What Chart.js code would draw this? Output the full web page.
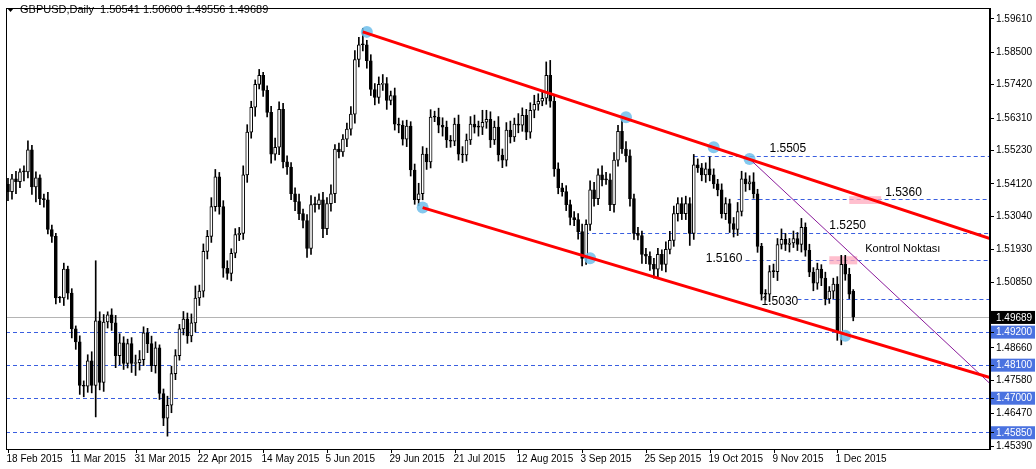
<!DOCTYPE html>
<html><head><meta charset="utf-8">
<script src="https://cdn.jsdelivr.net/npm/chart.js@4.4.1/dist/chart.umd.min.js"></script>
<style>html,body{margin:0;padding:0;background:#fff}#wrap{width:1036px;height:469px}</style>
</head><body><div id="wrap"><canvas id="c"></canvas></div>
<script>
const opens = [
1.5410,1.5386,1.5429,1.5419,1.5452,1.5452,1.5525,1.5402,1.5432,1.5363,
1.5359,1.5260,1.5237,1.5032,1.5032,1.5128,1.5048,1.4929,1.4886,1.4741,
1.4738,1.4823,1.4741,1.4956,1.4751,1.4952,1.4976,1.4949,1.4840,1.4883,
1.4814,1.4880,1.4814,1.4817,1.4827,1.4916,1.4880,1.4807,1.4866,1.4714,
1.4632,1.4675,1.4780,1.4840,1.4929,1.4962,1.4906,1.4949,1.5032,1.5055,
1.5187,1.5237,1.5336,1.5435,1.5336,1.5131,1.5114,1.5181,1.5243,1.5247,
1.5442,1.5584,1.5667,1.5743,1.5773,1.5723,1.5650,1.5511,1.5534,1.5660,
1.5485,1.5468,1.5379,1.5353,1.5313,1.5290,1.5197,1.5343,1.5343,1.5359,
1.5263,1.5346,1.5379,1.5528,1.5518,1.5561,1.5594,1.5644,1.5826,1.5875,
1.5875,1.5822,1.5726,1.5700,1.5743,1.5746,1.5690,1.5706,1.5611,1.5607,
1.5561,1.5604,1.5458,1.5359,1.5379,1.5511,1.5485,1.5634,1.5634,1.5607,
1.5601,1.5558,1.5554,1.5611,1.5511,1.5508,1.5558,1.5611,1.5601,1.5601,
1.5617,1.5627,1.5558,1.5601,1.5508,1.5491,1.5591,1.5568,1.5611,1.5607,
1.5640,1.5584,1.5657,1.5677,1.5687,1.5697,1.5773,1.5687,1.5462,1.5399,
1.5386,1.5343,1.5300,1.5293,1.5253,1.5164,1.5277,1.5392,1.5363,1.5442,
1.5425,1.5425,1.5343,1.5491,1.5587,1.5528,1.5505,1.5363,1.5247,1.5240,
1.5177,1.5171,1.5144,1.5128,1.5177,1.5144,1.5194,1.5224,1.5313,1.5346,
1.5313,1.5346,1.5247,1.5475,1.5465,1.5442,1.5462,1.5442,1.5412,1.5392,
1.5313,1.5346,1.5280,1.5260,1.5320,1.5429,1.5412,1.5419,1.5379,1.5204,
1.5045,1.5045,1.5120,1.5120,1.5210,1.5227,1.5210,1.5215,1.5230,1.5210,
1.5267,1.5191,1.5118,1.5081,1.5128,1.5098,1.5029,1.5055,1.5078,1.4916,
1.5144,1.5111,1.5054];
const closes = [
1.5386,1.5429,1.5419,1.5452,1.5452,1.5525,1.5402,1.5432,1.5363,1.5359,
1.5260,1.5237,1.5032,1.5032,1.5128,1.5048,1.4929,1.4886,1.4741,1.4738,
1.4823,1.4741,1.4956,1.4751,1.4952,1.4976,1.4949,1.4840,1.4883,1.4814,
1.4880,1.4814,1.4817,1.4827,1.4916,1.4880,1.4807,1.4866,1.4714,1.4632,
1.4675,1.4780,1.4840,1.4929,1.4962,1.4906,1.4949,1.5032,1.5055,1.5187,
1.5237,1.5336,1.5435,1.5336,1.5131,1.5114,1.5181,1.5243,1.5247,1.5442,
1.5584,1.5667,1.5743,1.5773,1.5723,1.5650,1.5511,1.5534,1.5660,1.5485,
1.5468,1.5379,1.5353,1.5313,1.5290,1.5197,1.5343,1.5343,1.5359,1.5263,
1.5346,1.5379,1.5528,1.5518,1.5561,1.5594,1.5644,1.5826,1.5875,1.5875,
1.5822,1.5726,1.5700,1.5743,1.5746,1.5690,1.5706,1.5611,1.5607,1.5561,
1.5604,1.5458,1.5359,1.5379,1.5511,1.5485,1.5634,1.5634,1.5607,1.5601,
1.5558,1.5554,1.5611,1.5511,1.5508,1.5558,1.5611,1.5601,1.5601,1.5617,
1.5627,1.5558,1.5601,1.5508,1.5491,1.5591,1.5568,1.5611,1.5607,1.5640,
1.5584,1.5657,1.5677,1.5687,1.5697,1.5773,1.5687,1.5462,1.5399,1.5386,
1.5343,1.5300,1.5293,1.5253,1.5164,1.5277,1.5392,1.5363,1.5442,1.5425,
1.5425,1.5343,1.5491,1.5587,1.5528,1.5505,1.5363,1.5247,1.5240,1.5177,
1.5171,1.5144,1.5128,1.5177,1.5144,1.5194,1.5224,1.5313,1.5346,1.5313,
1.5346,1.5247,1.5475,1.5465,1.5442,1.5462,1.5442,1.5412,1.5392,1.5313,
1.5346,1.5280,1.5260,1.5320,1.5429,1.5412,1.5419,1.5379,1.5204,1.5045,
1.5045,1.5120,1.5120,1.5210,1.5227,1.5210,1.5215,1.5230,1.5210,1.5267,
1.5191,1.5118,1.5081,1.5128,1.5098,1.5029,1.5055,1.5078,1.4916,1.5144,
1.5111,1.5045,1.4969];
// wick lengths in pips above body top / below body bottom
const upperWickPips = [
20,15,25,10,20,30,15,20,10,15, 25,15,10,5,20,10,15,10,20,15,
20,30,200,30,25,10,20,25,30,20, 15,20,25,30,20,15,25,20,10,15,
30,25,20,15,25,20,30,40,20,25, 20,30,25,15,20,25,15,20,20,30,
25,20,15,20,10,15,20,30,25,20, 20,15,20,25,15,20,30,25,20,25,
20,30,15,20,15,20,25,30,25,55, 15,20,20,25,30,20,15,25,20,15,
20,15,20,35,25,20,25,20,30,25, 20,15,20,30,25,20,25,30,20,40,
30,25,20,35,20,25,30,20,35,25, 20,25,30,25,20,45,50,20,20,15,
20,15,20,20,25,15,30,25,20,30, 25,20,25,20,40,25,20,15,20,15,
20,15,20,20,15,25,30,25,20,20, 25,20,35,20,15,20,40,20,15,20,
20,15,20,30,25,20,20,30,15,10, 15,20,25,20,35,20,15,25,20,30,
15,20,15,20,15,20,15,20,25,30, 30,20,6];
const lowerWickPips = [
30,25,40,20,30,20,25,50,20,25, 15,20,20,15,25,20,30,25,30,35,
20,25,105,25,30,20,25,40,30,20, 15,30,40,25,20,30,20,25,20,25,
60,25,20,15,20,25,20,30,25,20, 25,20,15,25,30,20,25,15,20,20,
25,20,30,15,20,15,30,20,25,20, 25,20,30,20,25,30,20,25,15,30,
20,25,30,20,15,25,20,30,25,20, 25,20,25,20,20,30,15,20,25,20,
25,20,15,20,20,25,20,15,25,30, 25,20,15,20,25,20,15,20,30,25,
20,25,15,20,25,20,20,15,25,20, 25,20,25,20,15,20,20,25,20,15,
20,25,20,25,25,20,20,25,20,20, 15,20,25,20,15,20,25,20,15,30,
25,20,30,25,20,25,15,20,25,20, 20,40,20,15,20,25,20,15,20,15,
20,30,25,20,15,25,20,15,20,20, 20,25,20,30,15,20,25,15,20,25,
20,15,25,20,25,20,15,25,25,40, 20,15,13];
const dateLabels = ["18 Feb 2015","11 Mar 2015","31 Mar 2015","22 Apr 2015","14 May 2015","5 Jun 2015","29 Jun 2015","21 Jul 2015","12 Aug 2015","3 Sep 2015","25 Sep 2015","19 Oct 2015","9 Nov 2015","1 Dec 2015"];
const dateLabelBars = [0,16,32,48,64,80,96,112,128,144,160,176,192,208];
const priceTicks = [1.59610,1.58500,1.57420,1.56310,1.55230,1.54120,1.53040,1.51930,1.50850,1.48660,1.47580,1.46470,1.45390];
const lastPrice = 1.49689;
const fullLevels = [1.4920,1.4810,1.4700,1.4585];
const partialLevels = [[1.5505,172],[1.5360,183],[1.5250,143],[1.5160,185],[1.5030,198]];
const levelTexts = [["1.5505",191,1.5505],["1.5360",220,1.5360],["1.5250",206,1.5250],["1.5160",175,1.5140],["1.5030",189,1.4995],["Kontrol Noktası",215,1.5172]];
const upperChannel = [{x:89,y:1.5918},{x:246.3,y:1.5230}];
const lowerChannel = [{x:104,y:1.5333},{x:246.3,y:1.4767}];
const purpleLine = [{x:186,y:1.5495},{x:246.3,y:1.4747}];
const pivots = [{x:90,y:1.5918},{x:104,y:1.5333},{x:146,y:1.5164},{x:155,y:1.5634},{x:177,y:1.5534},{x:186,y:1.5495},{x:210,y:1.4906}];
const pinkZones = [[211,219,1.5371,1.5345],[206,213,1.5171,1.5144]];

const bodies = closes.map((c,i)=>({x:i,y:[opens[i],c]}));
const wicks = closes.map((c,i)=>({x:i,y:[Math.min(opens[i],c)-lowerWickPips[i]/10000, Math.max(opens[i],c)+upperWickPips[i]/10000]}));
const bull = closes.map((c,i)=>c>opens[i]);

const F = '"Liberation Sans", Arial, sans-serif';
const deco = {
  id:'deco',
  beforeDatasetsDraw(ch){
    const {ctx, chartArea:a, scales:{x,y}} = ch;
    ctx.save();
    ctx.strokeStyle='#b4b4b4'; ctx.lineWidth=1;
    let py=Math.round(y.getPixelForValue(lastPrice))+0.5;
    ctx.beginPath(); ctx.moveTo(a.left,py); ctx.lineTo(a.right,py); ctx.stroke();
    ctx.strokeStyle='#3a5fe0'; ctx.setLineDash([4,3]);
    fullLevels.forEach(v=>{const p=Math.round(y.getPixelForValue(v))+0.5;ctx.beginPath();ctx.moveTo(a.left,p);ctx.lineTo(a.right,p);ctx.stroke();});
    partialLevels.forEach(([v,s])=>{const p=Math.round(y.getPixelForValue(v))+0.5;ctx.beginPath();ctx.moveTo(x.getPixelForValue(s),p);ctx.lineTo(a.right,p);ctx.stroke();});
    ctx.setLineDash([]);
    ctx.fillStyle='rgba(255,170,190,0.75)';
    pinkZones.forEach(([x0,x1,y0,y1])=>{const X0=x.getPixelForValue(x0),X1=x.getPixelForValue(x1),Y0=y.getPixelForValue(y0),Y1=y.getPixelForValue(y1);ctx.fillRect(X0,Y0,X1-X0,Y1-Y0);});
    ctx.restore();
  },
  afterDraw(ch){
    const {ctx, chartArea:a, scales:{x,y}} = ch;
    ctx.save();
    ctx.strokeStyle='#000'; ctx.lineWidth=1;
    ctx.strokeRect(a.left+0.5,a.top+0.5,a.right-a.left-1,a.bottom-a.top);
    ctx.fillStyle='#000'; ctx.font='10px '+F; ctx.textBaseline='middle'; ctx.textAlign='left';
    dateLabels.forEach((t,i)=>{const px=Math.round(x.getPixelForValue(dateLabelBars[i]))+0.5;
      ctx.beginPath();ctx.moveTo(px,a.bottom);ctx.lineTo(px,a.bottom+4);ctx.stroke();
      ctx.fillText(t,px-2,a.bottom+10);});
    ctx.textBaseline='bottom';
    levelTexts.forEach(([t,bx,v])=>{ctx.font=(t.length>7?'11px ':'12px ')+F;ctx.fillText(t,x.getPixelForValue(bx),y.getPixelForValue(v)-1);});
    ctx.font='10px '+F; ctx.textBaseline='middle';
    const box=(v,bg)=>{const p=y.getPixelForValue(v);ctx.fillStyle=bg;ctx.fillRect(a.right+1,p-6,44,13);ctx.fillStyle='#fff';ctx.fillText(v.toFixed(5),a.right+6,p+1);
      ctx.strokeStyle='#000';ctx.beginPath();ctx.moveTo(a.right,Math.round(p)+0.5);ctx.lineTo(a.right+4,Math.round(p)+0.5);ctx.stroke();};
    box(lastPrice,'#000');
    fullLevels.forEach(v=>box(v,'#4a72e0'));
    ctx.fillStyle='#000'; ctx.font='11px '+F; ctx.textBaseline='middle';
    ctx.beginPath();ctx.moveTo(7,8);ctx.lineTo(14,8);ctx.lineTo(10.5,12);ctx.closePath();ctx.fill();
    ctx.fillText('GBPUSD,Daily  1.50541 1.50600 1.49556 1.49689',20,10);
    ctx.restore();
  }
};

new Chart(document.getElementById('c'),{
  type:'bar',
  data:{datasets:[
    {type:'line',data:upperChannel,borderColor:'#ff0000',borderWidth:3,pointRadius:0,order:1},
    {type:'line',data:lowerChannel,borderColor:'#ff0000',borderWidth:3,pointRadius:0,order:1},
    {type:'line',data:purpleLine,borderColor:'#8a1a9a',borderWidth:1,pointRadius:0,order:1},
    {type:'line',data:pivots,showLine:false,pointRadius:6,pointBorderWidth:0,pointBackgroundColor:'rgba(110,190,235,0.85)',order:2},
    {data:bodies,barThickness:3,minBarLength:1,borderWidth:1,borderSkipped:false,borderColor:'#000',backgroundColor:bull.map(b=>b?'#fff':'#000'),grouped:false,order:3},
    {data:wicks,barThickness:1,backgroundColor:'#000',borderWidth:0,grouped:false,order:4}
  ]},
  options:{
    responsive:true,maintainAspectRatio:false,animation:false,
    layout:{padding:{left:3,top:5,bottom:20,right:0}},
    plugins:{legend:{display:false},tooltip:{enabled:false}},
    scales:{
      x:{type:'linear',min:-0.5,max:246.3,display:false,offset:false},
      y:{position:'right',min:1.45292,max:1.59975,
        afterBuildTicks(s){s.ticks=priceTicks.map(v=>({value:v}));},
        afterFit(s){s.width=46;},
        grid:{drawOnChartArea:false,tickLength:4,color:'#000'},
        border:{color:'#000'},
        ticks:{color:'#000',padding:2,font:{family:F,size:10},callback:v=>v.toFixed(5)}}
    }
  },
  plugins:[deco]
});
</script></body></html>
